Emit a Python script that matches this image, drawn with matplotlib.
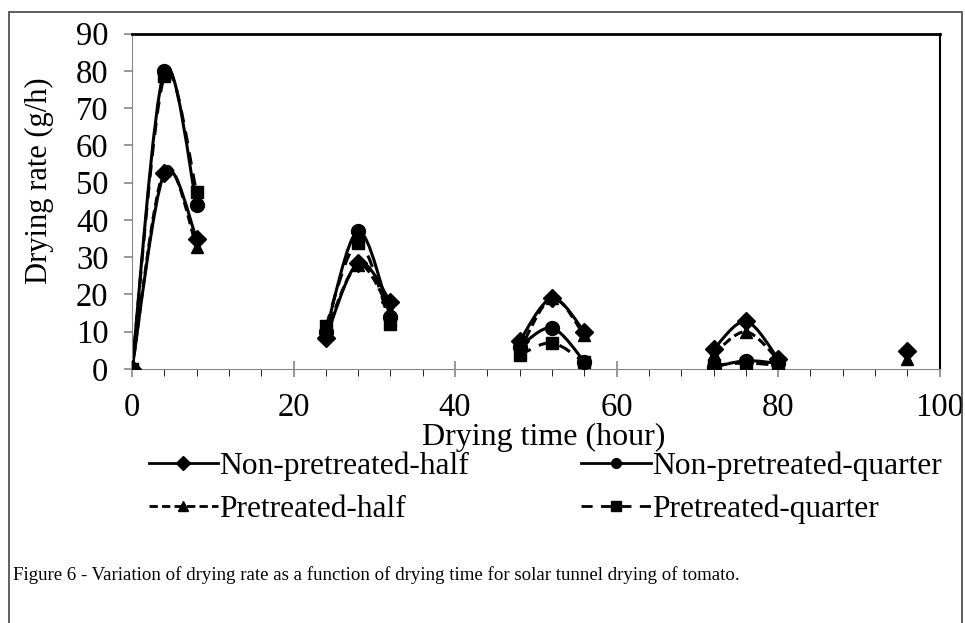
import numpy as np
import matplotlib
matplotlib.use("Agg")
import matplotlib.pyplot as plt
from matplotlib.path import Path
from matplotlib.patches import PathPatch, Rectangle
from matplotlib.lines import Line2D

plt.rcParams["font.family"] = ["Liberation Serif", "DejaVu Serif"]

# drying days: three readings each, plus a single reading at 96 h
days = [[0, 4, 8], [24, 28, 32], [48, 52, 56], [72, 76, 80]]
last_time = 96

np_half = [[0, 52.5, 35], [8.3, 28.5, 18], [7.5, 19, 10], [5.3, 12.8, 2.7]]
np_quarter = [[0, 80, 44], [10, 37, 14], [6, 11, 2], [0.5, 2.2, 1.5]]
p_half = [[0, 53.5, 32.8], [9.5, 28, 15.5], [5, 19, 9], [4, 10, 2.5]]
p_quarter = [[0, 78.5, 47.5], [11.5, 33.8, 12], [3.8, 7, 1.8], [1, 1.6, 1]]
np_half_last = 4.8
p_half_last = 2.7

names = ["Non-pretreated-half", "Non-pretreated-quarter",
         "Pretreated-half", "Pretreated-quarter"]


def smooth(ax, xs, ys, ls):
    # excel-like smoothed line, bezier through the points
    pts = np.column_stack([xs, ys]).astype(float)
    n = len(pts)
    verts = [pts[0]]
    codes = [Path.MOVETO]
    for i in range(n - 1):
        p0 = pts[max(i - 1, 0)]
        p1 = pts[i]
        p2 = pts[i + 1]
        p3 = pts[min(i + 2, n - 1)]
        verts += [p1 + (p2 - p0) / 6, p2 - (p3 - p1) / 6, p2]
        codes += [Path.CURVE4] * 3
    patch = PathPatch(Path(verts, codes), fill=False, edgecolor="black",
                      lw=2.2, linestyle=ls, transform=ax.transData)
    ax.add_patch(patch)


fig = plt.figure(figsize=(9.65, 6.23), dpi=100)
ax = fig.add_axes([0.1368, 0.4077, 0.837, 0.5385])

styles = [
    (np_half, "D", "-", 9),
    (np_quarter, "o", "-", 10),
    (p_half, "^", (0, (3, 1.5)), 9),
    (p_quarter, "s", (0, (4, 3)), 9),
]
for series, mk, ls, ms in styles:
    for t, v in zip(days, series):
        smooth(ax, t, v, ls)
        ax.plot(t, v, ls="none", marker=mk, ms=ms, color="black", zorder=3)

ax.plot([last_time], [np_half_last], ls="none", marker="D", ms=9, color="black")
ax.plot([last_time], [p_half_last], ls="none", marker="^", ms=9, color="black")

ax.set_xlim(0, 100)
ax.set_ylim(0, 90)
ax.set_xticks(np.arange(0, 101, 20))
ax.set_xticks(np.arange(0, 101, 4), minor=True)
ax.set_yticks(np.arange(0, 91, 10))
ax.tick_params(axis="both", labelsize=23.5, color="#888888", width=1.2)
ax.tick_params(axis="x", which="major", direction="inout", length=12, pad=11)
ax.tick_params(axis="x", which="minor", direction="out", length=5)
ax.tick_params(axis="y", direction="out", length=6, pad=11)
ax.spines["left"].set_color("#888888")
ax.spines["bottom"].set_color("#888888")
ax.spines["top"].set_linewidth(2)
ax.spines["right"].set_linewidth(1.5)
ax.set_xlabel("Drying time (hour)", fontsize=23)
ax.set_ylabel("Drying rate (g/h)", fontsize=22)
ax.xaxis.set_label_coords(0.51, -0.16)
ax.yaxis.set_label_coords(-0.097, 0.5625)

handles = [
    Line2D([], [], color="black", lw=2, ls="-", marker="D", ms=7),
    Line2D([], [], color="black", lw=2, ls="-", marker="o", ms=7),
    Line2D([], [], color="black", lw=2, ls=(0, (3, 1.5)), marker="^", ms=7),
    Line2D([], [], color="black", lw=2, ls=(0, (4, 3)), marker="s", ms=7),
]
order = [0, 2, 1, 3]
fig.legend([handles[i] for i in order], [names[i] for i in order],
           loc="upper left", bbox_to_anchor=(0.154, 0.276),
           ncol=2, frameon=False, fontsize=22.7, handlelength=2.2,
           handletextpad=0.05, columnspacing=3.55, labelspacing=0.45,
           borderaxespad=0, borderpad=0)

fig.text(0.013, 0.077, "Figure 6 - Variation of drying rate as a function of "
         "drying time for solar tunnel drying of tomato.", fontsize=13.6,
         va="center")

fig.patches.append(Rectangle((0.009, -0.01), 0.988, 0.99, transform=fig.transFigure,
                             fill=False, edgecolor="#444444", lw=1.2))

fig.savefig("out.png", dpi=100)
